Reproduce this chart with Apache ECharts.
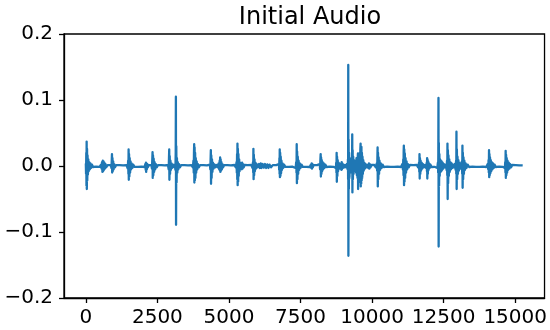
<!DOCTYPE html>
<html>
<head>
<meta charset="utf-8">
<script src="https://cdn.jsdelivr.net/npm/echarts@6/dist/echarts.min.js"></script>
<style>html,body{margin:0;padding:0;background:#fff;}#chart{width:550px;height:330px;}</style>
</head>
<body>
<div id="chart"></div>
<script>
const chartTitle = 'Initial Audio';
const xTicks = [0, 2500, 5000, 7500, 10000, 12500, 15000];
const yTicks = [-0.2, -0.1, 0.0, 0.1, 0.2];

// [sample index, amplitude], in order of sample index
const segmentA = [
[0,0.004],[8,-0.012],[16,0.02],[22,-0.03],[28,0.037],[34,-0.035],[42,0.026],[50,-0.022],[60,0.016],[72,-0.013],[86,0.01],[100,-0.008],[118,0.006],[138,-0.005],[160,0.004],[185,-0.003],[215,0.002],[250,-0.0015],[300,0.0012],[360,-0.001],[420,0.0015],[480,-0.0012],[530,0.002],
[550,-0.004],[565,0.006],[580,-0.009],[592,0.008],[604,-0.008],[618,0.007],[632,-0.006],[648,0.005],[665,-0.004],[685,0.003],[710,-0.002],[760,0.0012],[820,-0.001],[870,0.0015],
[895,-0.003],[905,0.008],[913,0.018],[920,-0.01],[930,0.012],[940,-0.008],[955,0.007],[970,-0.005],[990,0.003],[1015,-0.002],[1060,0.0012],[1120,-0.001],[1180,0.0013],[1240,-0.0012],[1300,0.001],[1360,-0.0015],[1420,0.0012],
[1465,-0.004],[1478,0.008],[1488,-0.012],[1494,0.025],[1501,-0.021],[1510,0.018],[1520,-0.016],[1532,0.012],[1546,-0.01],[1562,0.007],[1580,-0.005],[1600,0.004],[1625,-0.003],[1655,0.002],[1700,-0.0012],[1760,0.001],[1820,-0.0012],[1880,0.0015],[1940,-0.001],[2000,0.0012],[2050,-0.0015],
[2080,0.003],[2092,-0.006],[2100,0.005],[2108,-0.009],[2118,0.004],[2130,-0.005],[2145,0.003],[2165,-0.002],[2200,0.0012],[2250,-0.001],[2290,0.0015],
[2310,-0.004],[2322,0.01],[2331,0.021],[2338,-0.018],[2347,0.016],[2357,-0.014],[2370,0.011],[2385,-0.009],[2402,0.006],[2422,-0.005],[2445,0.003],[2475,-0.002],[2520,0.0012],[2580,-0.001],[2640,0.0013],[2700,-0.0012],[2760,0.001],[2820,-0.0013],[2870,0.0015],
[2895,-0.005],[2905,0.012],[2913,0.025],[2920,-0.021],[2930,0.015],[2942,-0.012],[2956,0.008],[2972,-0.006],[2992,0.004],[3015,-0.003],[3045,0.002],[3080,-0.0015],[3110,0.002],
[3130,-0.006],[3140,0.02],[3146,0.105],[3152,-0.089],[3160,0.03],[3170,-0.025],[3182,0.012],[3196,-0.01],[3212,0.006],[3230,-0.005],[3255,0.003],[3285,-0.002],[3330,0.0012],[3390,-0.001],[3450,0.0013],[3510,-0.0012],[3570,0.001],[3630,-0.0013],[3690,0.0012],[3740,-0.002],
[3760,0.008],[3770,-0.01],[3778,0.02],[3785,0.033],[3792,-0.025],[3800,0.028],[3808,-0.022],[3818,0.02],[3828,-0.018],[3840,0.012],[3855,-0.01],[3872,0.007],[3892,-0.005],[3915,0.003],[3945,-0.002],[3990,0.0012],[4050,-0.001],[4110,0.0013],[4170,-0.0012],[4230,0.001],[4290,-0.0013],[4335,0.002],
[4350,-0.005],[4360,0.012],[4367,0.024],[4374,-0.027],[4383,0.016],[4394,-0.018],[4407,0.01],[4422,-0.009],[4440,0.005],[4462,-0.004],[4490,0.0025],[4520,-0.002],[4560,0.0015],[4600,-0.002],[4640,0.004],
[4660,-0.005],[4675,0.008],[4685,-0.007],[4692,0.013],[4700,-0.009],[4710,0.01],[4722,-0.007],[4736,0.006],[4752,-0.005],[4770,0.003],[4795,-0.002],[4830,0.0012],[4890,-0.001],[4950,0.0013],[5010,-0.0012],[5070,0.001],[5130,-0.0013],[5190,0.0015],[5240,-0.002]
];
const segmentB = [
[5265,0.006],[5275,-0.01],[5284,0.018],[5291,-0.02],[5297,0.034],[5304,-0.029],[5312,0.026],[5321,-0.024],[5331,0.018],[5342,-0.015],[5356,0.01],[5372,-0.008],[5392,0.005],[5415,-0.004],
[5435,0.004],[5448,-0.005],[5460,0.005],[5475,-0.004],[5492,0.003],[5515,-0.002],[5545,0.0015],[5600,-0.001],[5660,0.0013],[5720,-0.0012],[5780,0.0015],[5825,-0.003],
[5840,0.006],[5848,-0.01],[5854,0.026],[5861,-0.02],[5870,0.017],[5880,-0.014],[5892,0.01],[5906,-0.008],[5923,0.005],[5943,-0.004],[5968,0.003],[6000,-0.002],
[6050,0.003],[6080,-0.003],[6110,0.004],[6140,-0.003],[6180,0.003],[6220,-0.0025],[6260,0.003],[6300,-0.003],[6340,0.0025],[6380,-0.003],[6420,0.002],[6470,-0.002],[6530,0.0013],[6590,-0.001],[6650,0.0013],[6710,-0.0015],[6745,0.003],
[6755,-0.006],[6763,0.012],[6769,-0.012],[6774,0.025],[6781,-0.017],[6789,0.02],[6798,-0.015],[6809,0.014],[6821,-0.011],[6835,0.008],[6852,-0.006],[6872,0.004],[6895,-0.003],[6925,0.002],[6970,-0.0012],[7030,0.001],[7090,-0.0013],[7150,0.0012],[7210,-0.001],[7270,0.0015],[7330,-0.003],
[7350,0.006],[7360,-0.01],[7367,0.033],[7374,-0.026],[7382,0.022],[7392,-0.02],[7404,0.014],[7418,-0.012],[7434,0.008],[7452,-0.006],[7475,0.004],[7500,-0.003],[7535,0.002],[7580,-0.0012],[7640,0.001],[7700,-0.0013],[7760,0.0012],[7820,-0.0015],[7860,0.002],
[7880,-0.003],[7890,0.004],[7900,-0.004],[7912,0.003],[7928,-0.002],[7960,0.0013],[8020,-0.001],[8080,0.0013],[8130,-0.0012],[8170,0.003],
[8185,-0.005],[8195,0.01],[8204,0.018],[8211,-0.016],[8220,0.013],[8230,-0.012],[8242,0.009],[8256,-0.008],[8272,0.006],[8290,-0.005],[8312,0.004],[8338,-0.003],[8370,0.002],[8410,-0.0015],[8470,0.0012],[8530,-0.001],[8590,0.0013],[8650,-0.0012],[8700,0.0015],[8735,-0.003],
[8748,0.005],[8756,-0.01],[8762,0.02],[8769,-0.024],[8777,0.014],[8787,-0.015],[8799,0.009],[8813,-0.008],[8830,0.005],[8850,-0.004],[8875,0.003],[8905,-0.004],
[8920,0.004],[8930,-0.006],[8938,0.006],[8948,-0.005],[8960,0.004],[8978,-0.003],[9000,0.002],[9030,-0.002],[9060,0.0015],[9090,-0.002],[9120,0.003],[9145,-0.005],
[9158,0.01],[9163,-0.02],[9168,0.153],[9173,-0.136],[9180,0.04],[9188,-0.035],[9198,0.02],[9210,-0.018],[9224,0.012],[9240,-0.01],[9258,0.008],[9276,-0.007],[9292,0.006],
[9300,-0.01],[9307,0.048],[9313,-0.04],[9321,0.024],[9330,-0.02],[9341,0.014],[9354,-0.012],[9368,0.009],[9383,-0.008],[9398,0.007],[9413,-0.006],[9428,0.008],[9442,-0.01],[9455,0.012],[9468,-0.014],[9480,0.012],[9492,-0.018],
[9500,0.014],[9506,0.019],[9512,-0.035],[9520,0.016],[9528,-0.022],[9537,0.015],[9546,-0.02],[9555,0.017],[9564,-0.021],[9573,0.02],[9582,-0.024],[9590,0.025],
[9599,0.034],[9605,-0.031],[9612,0.026],[9620,-0.027],[9628,0.029],[9636,-0.022],[9645,0.02],[9655,-0.018],[9666,0.014],[9678,-0.012],[9692,0.009],[9708,-0.007],[9726,0.005],[9748,-0.004],[9775,0.003],[9805,-0.002],[9840,0.0015],
[9870,-0.003],[9890,0.004],[9905,-0.004],[9922,0.003],[9945,-0.002],[9980,0.0015],[10030,-0.0013],[10080,0.0015],[10130,-0.002],[10165,0.004]
];
const segmentC = [
[10178,-0.007],[10186,0.012],[10193,0.028],[10200,-0.031],[10208,0.02],[10218,-0.02],[10230,0.013],[10244,-0.012],[10260,0.008],[10280,-0.006],[10305,0.004],[10335,-0.003],[10370,0.002],[10410,-0.0015],[10470,0.0012],[10530,-0.001],[10590,0.0013],[10650,-0.0012],[10710,0.001],[10770,-0.0013],[10830,0.0012],[10890,-0.001],[10950,0.0013],[11010,-0.0015],[11060,0.003],
[11080,-0.006],[11090,0.01],[11098,-0.014],[11104,0.022],[11110,0.031],[11117,-0.029],[11125,0.025],[11134,-0.024],[11144,0.019],[11156,-0.018],[11170,0.012],[11186,-0.01],[11205,0.007],[11227,-0.005],[11252,0.003],[11282,-0.002],[11320,0.0015],[11380,-0.001],[11440,0.0013],[11500,-0.0012],[11560,0.0015],[11610,-0.002],
[11640,0.005],[11650,-0.009],[11657,0.018],[11664,-0.019],[11673,0.012],[11684,-0.012],[11697,0.008],[11712,-0.007],[11730,0.005],[11752,-0.004],[11778,0.003],[11810,-0.002],[11850,0.0015],[11890,-0.003],
[11910,0.005],[11918,-0.008],[11923,0.012],[11930,-0.019],[11938,0.01],[11948,-0.012],[11960,0.007],[11975,-0.006],[11993,0.004],[12015,-0.003],[12040,0.002],[12080,-0.0015],[12130,0.0013],[12180,-0.0012],[12230,0.0015],[12280,-0.003],
[12300,0.005],[12310,-0.01],[12315,0.02],[12320,0.103],[12326,-0.122],[12333,0.035],[12341,-0.03],[12351,0.018],[12363,-0.015],[12377,0.01],[12392,-0.009],
[12405,0.008],[12418,-0.008],[12432,0.007],[12448,-0.006],[12466,0.005],[12486,-0.004],[12510,0.003],[12540,-0.002],[12575,0.002],[12605,-0.006],
[12618,0.008],[12627,-0.014],[12634,0.034],[12641,-0.05],[12649,0.024],[12658,-0.026],[12669,0.016],[12682,-0.015],[12697,0.01],[12714,-0.009],[12734,0.006],[12756,-0.005],[12780,0.004],[12806,-0.003],[12835,0.002],[12865,-0.002],[12895,0.003],[12920,-0.006],
[12935,0.008],[12942,-0.012],[12948,0.052],[12955,-0.035],[12963,0.025],[12973,-0.02],[12985,0.014],[12999,-0.012],[13015,0.009],[13033,-0.007],[13053,0.005],[13075,-0.004],[13098,0.003],[13120,-0.004],[13138,0.007],
[13150,-0.012],[13157,0.031],[13164,-0.033],[13172,0.02],[13182,-0.02],[13194,0.013],[13208,-0.012],[13225,0.008],[13245,-0.006],[13270,0.004],[13300,-0.003],[13340,0.002],[13390,-0.0015],[13450,0.0012],[13510,-0.001],[13570,0.0013],[13630,-0.0012],[13690,0.001],[13750,-0.0013],[13810,0.0012],[13870,-0.001],[13930,0.0013],[13990,-0.0015],[14040,0.003],
[14060,-0.005],[14070,0.009],[14078,-0.01],[14086,0.024],[14093,-0.017],[14101,0.018],[14110,-0.014],[14121,0.013],[14133,-0.011],[14147,0.009],[14163,-0.008],[14181,0.006],[14202,-0.005],[14226,0.004],[14252,-0.003],[14282,0.002],[14320,-0.0015],[14380,0.0012],[14440,-0.001],[14500,0.0013],[14560,-0.0012],[14610,0.0015],[14640,-0.003],
[14652,0.006],[14660,-0.01],[14667,0.023],[14674,-0.018],[14682,0.017],[14692,-0.014],[14704,0.012],[14718,-0.01],[14734,0.008],[14752,-0.006],[14774,0.005],[14798,-0.004],[14826,0.003],[14858,-0.002],[14900,0.0015],[14960,-0.0012],[15020,0.0013],[15080,-0.0012],[15140,0.001],[15200,-0.0013],[15262,0.0008]
];

const waveform = segmentA.concat(segmentB, segmentC);
const FONT = 'DejaVu Sans';

const chart = echarts.init(document.getElementById('chart'), null, {renderer: 'canvas'});
chart.setOption({
  animation: false,
  backgroundColor: '#ffffff',
  title: {
    text: chartTitle,
    left: 305,
    top: 1,
    textAlign: 'center',
    textStyle: {fontFamily: FONT, fontSize: 24, fontWeight: 'normal', color: '#000'}
  },
  grid: {
    left: 64, right: 5, top: 34, bottom: 32,
    show: true, borderColor: '#000', borderWidth: 1.3, backgroundColor: 'transparent'
  },
  xAxis: {
    type: 'value',
    min: -763, max: 16025,
    axisLine: {show: true, onZero: false, lineStyle: {color: '#000', width: 1.3}},
    axisTick: {show: true, length: 5, inside: false, customValues: xTicks, lineStyle: {color: '#000', width: 1.3}},
    axisLabel: {show: true, customValues: xTicks, margin: 10, color: '#000', fontFamily: FONT, fontSize: 20,
      formatter: v => String(v)},
    splitLine: {show: false}
  },
  yAxis: {
    type: 'value',
    min: -0.2, max: 0.2, interval: 0.1,
    axisLine: {show: true, onZero: false, lineStyle: {color: '#000', width: 1.3}},
    axisTick: {show: true, length: 5, inside: false, lineStyle: {color: '#000', width: 1.3}},
    axisLabel: {show: true, margin: 11, color: '#000', fontFamily: FONT, fontSize: 20,
      formatter: v => { const r = Math.round(v * 10) / 10; return (r < 0 ? '\u2212' : '') + Math.abs(r).toFixed(1); }},
    splitLine: {show: false}
  },
  series: [{
    type: 'line',
    data: waveform,
    showSymbol: false,
    symbol: 'none',
    sampling: null,
    smooth: false,
    clip: true,
    lineStyle: {color: '#1f77b4', width: 2.3, join: 'round'},
    itemStyle: {color: '#1f77b4'}
  }]
});
</script>
</body>
</html>
